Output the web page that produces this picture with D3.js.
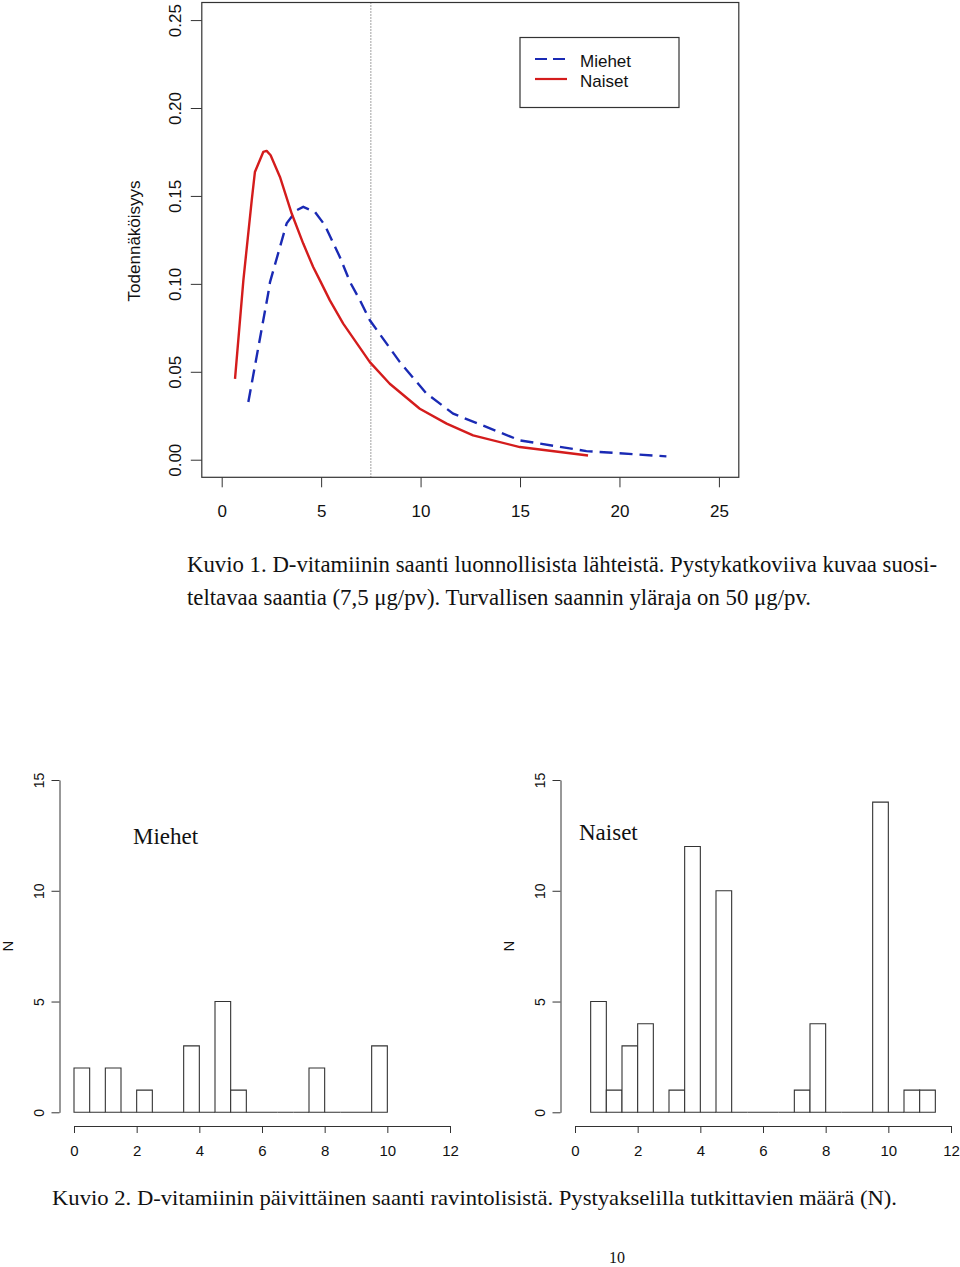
<!DOCTYPE html>
<html>
<head>
<meta charset="utf-8">
<script src="https://cdn.jsdelivr.net/npm/d3@7"></script>
<style>
  body { margin: 0; background: #fff; }
  svg text { fill: #111; }
</style>
</head>
<body>
<div id="chart"></div>
<script>
// Kuvio 1: density curves (x = µg/pv, y = probability)
const naisetX = [0.67, 1.09, 1.51, 1.67, 2.09, 2.26, 2.46, 2.93, 3.52, 4.10, 4.60, 4.94, 5.44, 6.11, 7.45, 8.45, 9.96, 11.31, 12.64, 14.99, 18.42];
const naisetY = [0.046, 0.102, 0.1475, 0.1636, 0.175, 0.1756, 0.1731, 0.1608, 0.140, 0.1229, 0.1096, 0.102, 0.0906, 0.0774, 0.0555, 0.0432, 0.029, 0.0205, 0.0138, 0.0072, 0.0024];
const miehetX = [1.34, 2.34, 2.43, 3.27, 3.77, 4.10, 4.69, 5.19, 5.94, 6.45, 6.95, 7.45, 8.96, 10.30, 11.64, 14.99, 18.34, 22.36];
const miehetY = [0.0328, 0.0947, 0.101, 0.1345, 0.1419, 0.1438, 0.1409, 0.1333, 0.1153, 0.1011, 0.0907, 0.0793, 0.0555, 0.0376, 0.0262, 0.011, 0.0049, 0.0019];
const suositus = 7.5;
const densXTicks = [0, 5, 10, 15, 20, 25];
const densYTicks = [0, 0.05, 0.10, 0.15, 0.20, 0.25];
const legendLabels = ["Miehet", "Naiset"];

// Kuvio 2: histograms, bins of 0.5
const binWidth = 0.5;
const miehetStart = 0;
const miehetCounts = [2, 0, 2, 0, 1, 0, 0, 3, 0, 5, 1, 0, 0, 0, 0, 2, 0, 0, 0, 3];
const naisetStart = 0.5;
const naisetCounts = [5, 1, 3, 4, 0, 1, 12, 0, 10, 0, 0, 0, 0, 1, 4, 0, 0, 0, 14, 0, 1, 1];
const histXTicks = [0, 2, 4, 6, 8, 10, 12];
const histYTicks = [0, 5, 10, 15];

const caption1 = ["Kuvio 1. D-vitamiinin saanti luonnollisista lähteistä. Pystykatkoviiva kuvaa suosi-",
                  "teltavaa saantia (7,5 μg/pv). Turvallisen saannin yläraja on 50 μg/pv."];
const caption2 = "Kuvio 2. D-vitamiinin päivittäinen saanti ravintolisistä. Pystyakselilla tutkittavien määrä (N).";

const sans = "'Liberation Sans', Arial, sans-serif";
const serif = "'Liberation Serif', 'Times New Roman', serif";
const ink = "#333";

const svg = d3.select("#chart").append("svg")
    .attr("width", 960).attr("height", 1267);

// ---------- top density plot ----------
const x = d3.scaleLinear().domain([-1, 26]).range([201.8, 738.8]);
const y = d3.scaleLinear().domain([-0.01, 0.26]).range([477.3, 2.5]);

const gTop = svg.append("g");

gTop.append("g")
    .attr("transform", "translate(0," + y.range()[0] + ")")
    .call(d3.axisBottom(x).tickValues(densXTicks).tickSize(10).tickPadding(18).tickSizeOuter(0))
    .call(g => g.select(".domain").remove())
    .call(g => g.selectAll("line").attr("stroke", ink))
    .call(g => g.selectAll("text").attr("font-size", 17).attr("font-family", sans).attr("fill", "#111"));

gTop.append("g")
    .attr("transform", "translate(" + x.range()[0] + ",0)")
    .call(d3.axisLeft(y).tickValues(densYTicks).tickFormat(d3.format(".2f")).tickSize(11).tickSizeOuter(0))
    .call(g => g.select(".domain").remove())
    .call(g => g.selectAll("line").attr("stroke", ink))
    .call(g => g.selectAll("text")
        .attr("font-size", 17).attr("font-family", sans).attr("fill", "#111")
        .attr("text-anchor", "middle").attr("x", 0).attr("dy", 0)
        .attr("transform", "translate(-20.5,0) rotate(-90)"));

gTop.append("text")
    .attr("transform", "translate(140," + (y(0.125) + 1) + ") rotate(-90)")
    .attr("text-anchor", "middle")
    .attr("font-family", sans).attr("font-size", 17)
    .text("Todennäköisyys");

// recommended intake line
gTop.append("line")
    .attr("x1", x(suositus)).attr("x2", x(suositus))
    .attr("y1", y.range()[1]).attr("y2", y.range()[0])
    .attr("stroke", "#444").attr("stroke-width", 1)
    .attr("stroke-dasharray", "1,2");

const line = d3.line().x(d => x(d[0])).y(d => y(d[1]));

gTop.append("path")
    .datum(d3.zip(miehetX, miehetY))
    .attr("d", line)
    .attr("fill", "none").attr("stroke", "#1a2ab4").attr("stroke-width", 2.4)
    .attr("stroke-dasharray", "13,7");

gTop.append("path")
    .datum(d3.zip(naisetX, naisetY))
    .attr("d", line)
    .attr("fill", "none").attr("stroke", "#d41c1c").attr("stroke-width", 2.4)
    .attr("stroke-linejoin", "round");

gTop.append("rect")
    .attr("x", x.range()[0]).attr("y", y.range()[1])
    .attr("width", x.range()[1] - x.range()[0])
    .attr("height", y.range()[0] - y.range()[1])
    .attr("fill", "none").attr("stroke", ink).attr("stroke-width", 1.2);

// legend
const legend = gTop.append("g").attr("transform", "translate(520,37.5)");
legend.append("rect")
    .attr("width", 159).attr("height", 70)
    .attr("fill", "#fff").attr("stroke", ink).attr("stroke-width", 1.2);
const legendStyles = [
    {color: "#1a2ab4", dash: "12,6"},
    {color: "#d41c1c", dash: null}
];
legend.selectAll("g.item")
    .data(legendLabels)
    .join("g")
    .attr("class", "item")
    .attr("transform", (d, i) => "translate(0," + (21.5 + i * 20) + ")")
    .each(function(d, i) {
        const g = d3.select(this);
        g.append("line")
            .attr("x1", 15).attr("x2", 47).attr("y1", 0).attr("y2", 0)
            .attr("stroke", legendStyles[i].color).attr("stroke-width", 2.2)
            .attr("stroke-dasharray", legendStyles[i].dash);
        g.append("text")
            .attr("x", 60).attr("y", 8)
            .attr("font-family", sans).attr("font-size", 17)
            .text(d);
    });

// caption 1
svg.selectAll("text.cap1")
    .data(caption1)
    .join("text")
    .attr("class", "cap1")
    .attr("x", 187)
    .attr("y", (d, i) => 572 + i * 33)
    .attr("font-family", serif).attr("font-size", 23)
    .attr("textLength", (d, i) => i === 0 ? 750 : 624)
    .attr("lengthAdjust", "spacingAndGlyphs")
    .text(d => d);

// ---------- histograms ----------
const hy = d3.scaleLinear().domain([0, 15]).range([1112.3, 780]);

function drawHist(left, title, counts, start, tx, ty) {
    const hx = d3.scaleLinear().domain([0, 12]).range([left, left + 376]);
    const g = svg.append("g");

    g.append("g")
        .attr("transform", "translate(0,1126)")
        .call(d3.axisBottom(hx).tickValues(histXTicks).tickSize(7).tickPadding(12).tickSizeOuter(0))
        .call(a => a.selectAll("line, path").attr("stroke", ink))
        .call(a => a.selectAll("text").attr("font-size", 15).attr("font-family", sans).attr("fill", "#111"));

    g.append("g")
        .attr("transform", "translate(" + (left - 14.5) + ",0)")
        .call(d3.axisLeft(hy).tickValues(histYTicks).tickSize(8).tickSizeOuter(0))
        .call(a => a.selectAll("line, path").attr("stroke", ink))
        .call(a => a.selectAll("text")
            .attr("font-size", 14).attr("font-family", sans).attr("fill", "#111")
            .attr("text-anchor", "middle").attr("x", 0).attr("dy", 0)
            .attr("transform", "translate(-16,0) rotate(-90)"));

    g.append("text")
        .attr("transform", "translate(" + (left - 61) + "," + hy(7.5) + ") rotate(-90)")
        .attr("text-anchor", "middle")
        .attr("font-family", sans).attr("font-size", 15)
        .text("N");

    g.selectAll("path.bar")
        .data(counts)
        .join("path")
        .attr("class", "bar")
        .attr("d", (d, i) => {
            const x0 = hx(start + i * binWidth), x1 = hx(start + (i + 1) * binWidth);
            return "M" + x0 + "," + hy(0) + "V" + hy(d) + "H" + x1 + "V" + hy(0) + "Z";
        })
        .attr("fill", "#fff").attr("stroke", ink).attr("stroke-width", 1.1);

    g.append("text")
        .attr("x", tx).attr("y", ty)
        .attr("font-family", serif).attr("font-size", 23)
        .text(title);
}

drawHist(74, "Miehet", miehetCounts, miehetStart, 133, 844);
drawHist(575, "Naiset", naisetCounts, naisetStart, 579, 840);

svg.append("text")
    .attr("x", 52).attr("y", 1205)
    .attr("font-family", serif).attr("font-size", 22)
    .attr("textLength", 845).attr("lengthAdjust", "spacingAndGlyphs")
    .text(caption2);

svg.append("text")
    .attr("x", 617).attr("y", 1263)
    .attr("text-anchor", "middle")
    .attr("font-family", serif).attr("font-size", 16)
    .text("10");
</script>
</body>
</html>
